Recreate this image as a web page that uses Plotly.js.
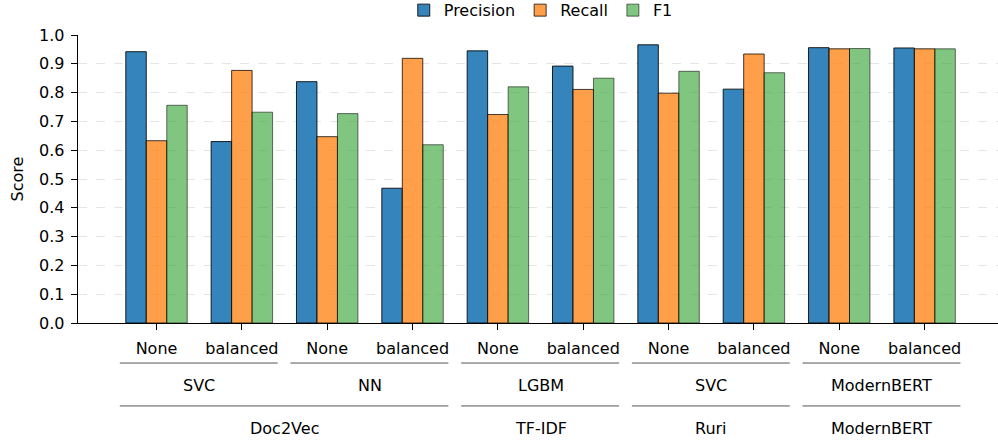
<!DOCTYPE html>
<html>
<head>
<meta charset="utf-8">
<script src="https://cdn.plot.ly/plotly-3.0.1.min.js"></script>
<style>html,body{margin:0;padding:0;background:#fff;}#chart{width:998px;height:441px;}</style>
</head>
<body>
<div id="chart"></div>
<script>
// Data
const balanceLabels = ["None","balanced","None","balanced","None","balanced","None","balanced","None","balanced"];
const modelLabels = ["SVC","NN","LGBM","SVC","ModernBERT"];
const embeddingLabels = ["Doc2Vec","TF-IDF","Ruri","ModernBERT"];
const modelGroups = [[0,1],[2,3],[4,5],[6,7],[8,9]];
const embeddingGroups = [[0,3],[4,5],[6,7],[8,9]];
const precision = [0.942, 0.630, 0.838, 0.468, 0.945, 0.892, 0.966, 0.812, 0.956, 0.955];
const recall    = [0.633, 0.877, 0.647, 0.919, 0.724, 0.811, 0.798, 0.934, 0.952, 0.952];
const f1        = [0.756, 0.732, 0.727, 0.619, 0.820, 0.850, 0.874, 0.869, 0.953, 0.952];

const xs = balanceLabels.map((_, i) => i);
const font = "DejaVu Sans, sans-serif";
const fs = 16;

function barTrace(name, y, fill, edge) {
  return {
    type: 'bar', name: name, x: xs, y: y,
    marker: {color: fill, line: {color: edge, width: 1}},
    hoverinfo: 'skip'
  };
}
const data = [
  barTrace('Precision', precision, 'rgba(31,119,180,0.9)', 'rgba(0,0,0,0.85)'),
  barTrace('Recall', recall, 'rgba(255,127,14,0.75)', 'rgba(0,0,0,0.75)'),
  barTrace('F1', f1, 'rgba(44,160,44,0.6)', 'rgba(0,0,0,0.55)')
];

const shapes = [];
const annotations = [];
const lineColor = '#555';
modelGroups.forEach((g, k) => {
  shapes.push({type:'line', xref:'x', yref:'paper', x0:g[0]-0.43, x1:g[1]+0.42, y0:-0.139, y1:-0.139, line:{color:lineColor, width:1}});
  annotations.push({xref:'x', yref:'paper', x:(g[0]+g[1])/2, y:-0.218, text:modelLabels[k], showarrow:false, yanchor:'middle', font:{family:font, size:fs, color:'#000'}});
});
embeddingGroups.forEach((g, k) => {
  shapes.push({type:'line', xref:'x', yref:'paper', x0:g[0]-0.43, x1:g[1]+0.42, y0:-0.288, y1:-0.288, line:{color:lineColor, width:1}});
  annotations.push({xref:'x', yref:'paper', x:(g[0]+g[1])/2, y:-0.368, text:embeddingLabels[k], showarrow:false, yanchor:'middle', font:{family:font, size:fs, color:'#000'}});
});

const layout = {
  width: 998, height: 441,
  margin: {l:78, r:0, t:35, b:118, autoexpand:false},
  paper_bgcolor:'#fff', plot_bgcolor:'#fff',
  font: {family: font, size: fs, color:'#000'},
  barmode: 'group', bargap: 0.28, bargroupgap: 0,
  showlegend: true,
  legend: {orientation:'h', xref:'paper', x:0.503, xanchor:'center', yref:'paper', y:1.145, yanchor:'top', font:{family:font, size:fs}, itemwidth:30, traceorder:'normal'},
  xaxis: {
    range: [-0.92, 9.86], tickmode:'array', tickvals: xs, ticktext: balanceLabels,
    ticks:'outside', ticklen:6, tickcolor:'#000', showline:true, linecolor:'#000', linewidth:1.3,
    showgrid:false, zeroline:false, tickfont:{family:font, size:fs}, ticklabelstandoff:4, automargin:false
  },
  yaxis: {
    range: [0, 1.0], tickmode:'array', tickvals:[0,0.1,0.2,0.3,0.4,0.5,0.6,0.7,0.8,0.9,1.0], tickformat:'.1f',
    ticks:'outside', ticklen:6, tickcolor:'#000', showline:true, linecolor:'#000', linewidth:1.3,
    showgrid:true, gridcolor:'#dedede', griddash:'dash', gridwidth:0.8, zeroline:false, automargin:false,
    title:{text:'Score', font:{family:font, size:fs}, standoff:11}, tickfont:{family:font, size:fs}, ticklabelstandoff:3
  },
  shapes: shapes,
  annotations: annotations
};
Plotly.newPlot('chart', data, layout, {displayModeBar:false, staticPlot:true});
</script>
</body>
</html>
